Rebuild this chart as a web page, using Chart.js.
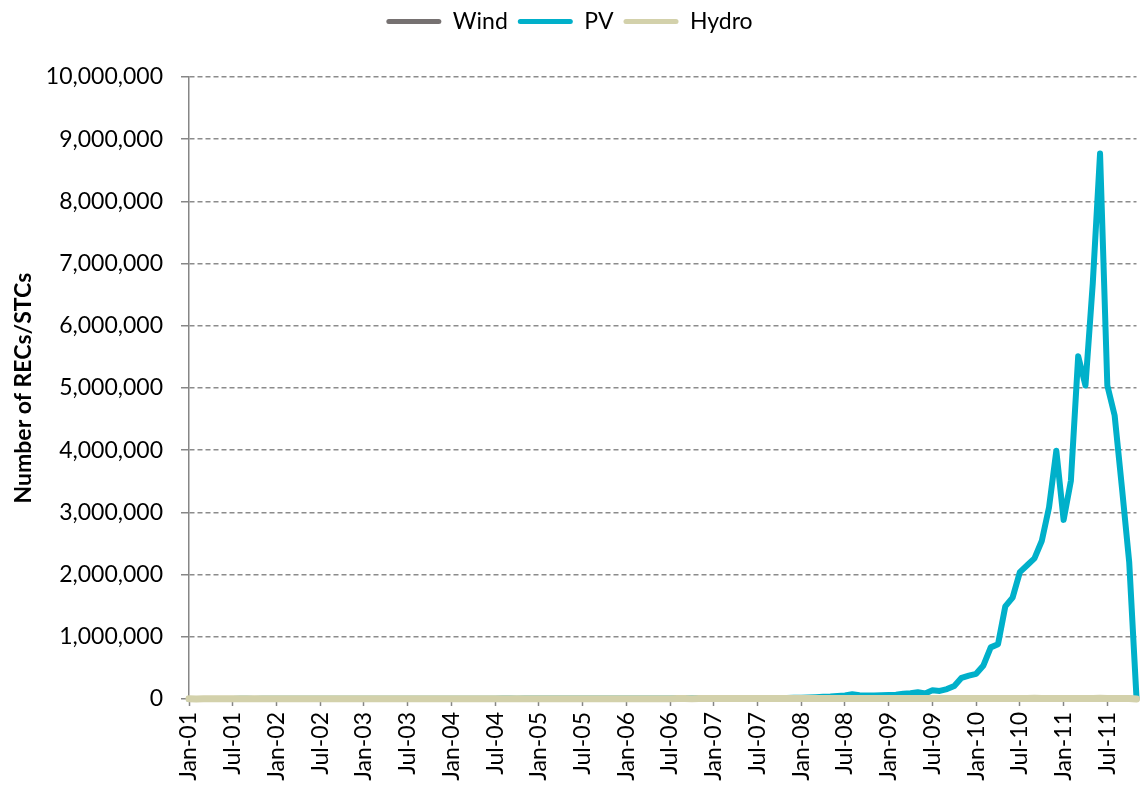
<!DOCTYPE html>
<html>
<head>
<meta charset="utf-8">
<script src="https://cdn.jsdelivr.net/npm/chart.js@4.4.1/dist/chart.umd.min.js"></script>
<style>
  html, body { margin: 0; padding: 0; background: #ffffff; }
  #wrap { width: 1141px; height: 787px; }
</style>
</head>
<body>
<div id="wrap"><canvas id="chart" width="1141" height="787"></canvas></div>
<script>
// Monthly certificate creation, Jan-2001 to Nov-2011
const monthNames = ['Jan', 'Feb', 'Mar', 'Apr', 'May', 'Jun', 'Jul', 'Aug', 'Sep', 'Oct', 'Nov', 'Dec'];
const years = ['01', '02', '03', '04', '05', '06', '07', '08', '09', '10', '11'];
const lastYearMonths = 11; // data runs to Nov-11

const categories = [];
years.forEach((yy, yi) => {
  const n = yi === years.length - 1 ? lastYearMonths : 12;
  for (let m = 0; m < n; m++) categories.push(monthNames[m] + '-' + yy);
});

const pvValues = [
  // 2001
  1500, 1300, 1700, 1600, 1800, 2000, 1900, 2100, 2200, 2000, 2300, 2600,
  // 2002
  2400, 2200, 2800, 2700, 3000, 3100, 2900, 3300, 3400, 3200, 3600, 3900,
  // 2003
  3500, 3300, 3900, 3800, 4200, 4100, 4300, 4600, 4400, 4800, 5000, 5300,
  // 2004
  4900, 4600, 5400, 5200, 5700, 5900, 5600, 6100, 6300, 6000, 6600, 7000,
  // 2005
  6400, 6100, 7000, 6800, 7400, 7700, 7300, 7900, 8200, 7800, 8500, 9000,
  // 2006
  8300, 7900, 9100, 8800, 9600, 10000, 9500, 10400, 10900, 10300, 11200, 12000,
  // 2007
  11000, 10500, 12500, 12000, 13500, 14500, 14000, 15500, 16500, 16000, 17500, 19000,
  // 2008
  20000, 24000, 30000, 35000, 40000, 48000, 58000, 75000, 62000, 55000, 56000, 60000,
  // 2009
  65000, 70000, 85000, 92000, 110000, 90000, 140000, 130000, 160000, 210000, 340000, 375000,
  // 2010
  405000, 540000, 830000, 880000, 1490000, 1630000, 2040000, 2150000, 2260000, 2540000, 3080000, 3990000,
  // 2011
  2880000, 3510000, 5510000, 5040000, 6680000, 8770000, 5040000, 4560000, 3400000, 2200000, 20000
];

const windValues = [
  // 2001
  300, 250, 320, 300, 350, 380, 360, 400, 420, 390, 430, 450,
  // 2002
  420, 400, 460, 450, 480, 500, 470, 520, 540, 510, 560, 590,
  // 2003
  550, 520, 600, 580, 620, 640, 610, 660, 680, 650, 700, 730,
  // 2004
  700, 670, 740, 720, 770, 790, 760, 810, 830, 800, 850, 880,
  // 2005
  850, 820, 900, 880, 930, 950, 920, 980, 1000, 970, 1030, 1060,
  // 2006
  1020, 990, 1080, 1050, 1110, 1140, 1100, 1170, 1200, 1160, 1230, 1270,
  // 2007
  1220, 1180, 1290, 1250, 1320, 1360, 1310, 1400, 1440, 1390, 1470, 1520,
  // 2008
  1460, 1420, 1550, 1500, 1600, 1650, 1590, 1700, 1760, 1690, 1800, 1860,
  // 2009
  1790, 1740, 1900, 1850, 1970, 2030, 1960, 2100, 2170, 2090, 2230, 2300,
  // 2010
  2220, 2160, 2360, 2290, 2450, 2520, 2440, 2610, 2700, 2600, 2780, 2870,
  // 2011
  2760, 2690, 2940, 2850, 3050, 3140, 3040, 3250, 3360, 3230, 400
];

const hydroValues = [
  // 2001
  2100, 1900, 2300, 2200, 2400, 2500, 2400, 2600, 2700, 2500, 2800, 2900,
  // 2002
  2800, 2600, 3000, 2900, 3100, 3200, 3000, 3300, 3400, 3200, 3500, 3600,
  // 2003
  3500, 3300, 3700, 3600, 3800, 3900, 3700, 4000, 4100, 3900, 4200, 4300,
  // 2004
  4200, 4000, 4400, 4300, 4500, 4600, 4400, 4700, 4800, 4600, 4900, 5000,
  // 2005
  4900, 4700, 5100, 5000, 5200, 5300, 5100, 5400, 5500, 5300, 5600, 5700,
  // 2006
  5600, 5400, 5800, 5700, 5900, 6000, 5800, 6100, 6200, 6000, 6300, 6400,
  // 2007
  6300, 6100, 6500, 6400, 6600, 6700, 6500, 6800, 6900, 6700, 7000, 7100,
  // 2008
  7000, 6800, 7200, 7100, 7300, 7400, 7200, 7500, 7600, 7400, 7700, 7800,
  // 2009
  7700, 7500, 7900, 7800, 8000, 8100, 7900, 8200, 8300, 8100, 8400, 8500,
  // 2010
  8400, 8200, 8600, 8500, 8700, 8800, 8600, 8900, 12000, 8800, 9100, 9200,
  // 2011
  9100, 8900, 9300, 9200, 9400, 12000, 9300, 9600, 9700, 9500, 1000
];

const yTickStep = 1000000;
const yMax = 10000000;
const tickEvery = 6; // label every six months

const FONT = 'Lato, Carlito, Calibri, "Noto Sans", sans-serif';

const colors = {
  wind: '#767171',
  pv: '#00B0CA',
  hydro: '#D3D1AB',
  grid: '#8c8c8c',
  axis: '#868686',
  text: '#000000'
};

// adds room between the legend row and the plot
const legendGap = {
  id: 'legendGap',
  beforeInit(chart) {
    const legend = chart.legend;
    if (!legend) return;
    const origFit = legend.fit;
    legend.fit = function () {
      origFit.call(this);
      this.height += 34;
    };
  }
};

const chart = new Chart(document.getElementById('chart'), {
  type: 'line',
  data: {
    labels: categories,
    datasets: [
      { label: 'Wind', data: windValues, borderColor: colors.wind, backgroundColor: colors.wind, borderWidth: 6, order: 2, clip: false },
      { label: 'PV', data: pvValues, borderColor: colors.pv, backgroundColor: colors.pv, borderWidth: 6, order: 1, clip: false },
      { label: 'Hydro', data: hydroValues, borderColor: colors.hydro, backgroundColor: colors.hydro, borderWidth: 7, order: 0, clip: false }
    ]
  },
  options: {
    responsive: false,
    animation: false,
    events: [],
    layout: { padding: { top: 0, right: 2, bottom: 0, left: 0 } },
    elements: {
      point: { radius: 0 },
      line: { tension: 0, borderJoinStyle: 'round', borderCapStyle: 'round', fill: false }
    },
    plugins: {
      tooltip: { enabled: false },
      legend: {
        position: 'top',
        labels: {
          font: { family: FONT, size: 23 },
          color: colors.text,
          boxWidth: 55,
          boxHeight: 5,
          padding: 10,
          useBorderRadius: true,
          borderRadius: 2.5,
          sort: (a, b) => a.datasetIndex - b.datasetIndex,
          generateLabels(ch) {
            return Chart.defaults.plugins.legend.labels.generateLabels(ch).map(item => {
              item.fillStyle = item.strokeStyle;
              item.lineWidth = 0;
              return item;
            });
          }
        }
      }
    },
    scales: {
      x: {
        type: 'category',
        offset: false,
        afterFit(scale) { scale.height = 88; },
        grid: {
          drawOnChartArea: false,
          drawTicks: true,
          tickLength: 7,
          tickColor: colors.axis,
          tickWidth: 1.5
        },
        border: { display: false },
        ticks: {
          autoSkip: false,
          maxRotation: 90,
          minRotation: 90,
          padding: 6,
          color: colors.text,
          font: { family: FONT, size: 23 },
          callback(value, index) {
            return index % tickEvery === 0 ? categories[index] : null;
          }
        }
      },
      y: {
        min: 0,
        max: yMax,
        afterFit(scale) { scale.width = 189; },
        grid: {
          color: colors.grid,
          lineWidth: 1.5,
          drawTicks: true,
          tickLength: 8,
          tickColor: colors.axis,
          tickWidth: 1.5
        },
        border: { display: true, color: colors.axis, width: 1.5, dash: [5, 3] },
        ticks: {
          stepSize: yTickStep,
          padding: 18,
          color: colors.text,
          font: { family: FONT, size: 23 },
          callback(value) { return value.toLocaleString('en-US'); }
        },
        title: {
          display: true,
          text: 'Number of RECs/STCs',
          color: colors.text,
          font: { family: FONT, size: 23, weight: 'bold' },
          padding: { top: 10, bottom: 0 }
        }
      }
    }
  },
  plugins: [legendGap]
});
</script>
</body>
</html>
